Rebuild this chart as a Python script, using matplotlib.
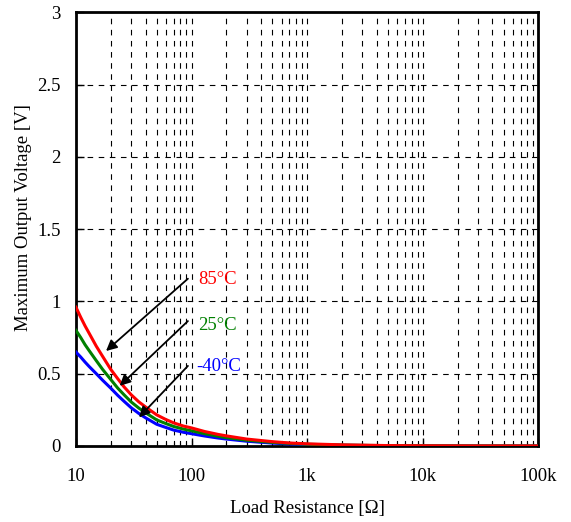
import numpy as np
import matplotlib.pyplot as plt
from matplotlib.ticker import FixedLocator, LogLocator, NullFormatter

plt.rcParams['font.family'] = ['Liberation Serif', 'DejaVu Serif']

# Load resistance [ohm] and maximum output voltage [V]
r_load = [10, 11, 12, 13, 15, 17, 20, 23, 26, 30, 35, 40, 50, 60, 70, 85,
          100, 130, 170, 200, 300, 500, 700, 1000, 2000, 5000, 10000, 30000, 100000]
v_85 = [0.96, 0.89, 0.83, 0.78, 0.69, 0.62, 0.53, 0.465, 0.41, 0.355, 0.305,
        0.27, 0.215, 0.183, 0.16, 0.138, 0.125, 0.10, 0.08, 0.07, 0.048,
        0.03, 0.021, 0.015, 0.008, 0.003, 0.0015, 0.0005, 0.0002]
v_25 = [0.80, 0.75, 0.70, 0.66, 0.59, 0.53, 0.46, 0.40, 0.355, 0.305, 0.262,
        0.23, 0.18, 0.155, 0.135, 0.117, 0.105, 0.085, 0.067, 0.058, 0.04,
        0.025, 0.018, 0.012, 0.006, 0.0025, 0.0012, 0.0004, 0.0001]
v_m40 = [0.65, 0.615, 0.58, 0.55, 0.50, 0.455, 0.40, 0.35, 0.31, 0.265, 0.225,
         0.195, 0.15, 0.128, 0.11, 0.095, 0.085, 0.069, 0.055, 0.048, 0.033,
         0.02, 0.014, 0.01, 0.005, 0.002, 0.001, 0.0003, 0.0001]

temps = ['85\u00b0C', '25\u00b0C', '-40\u00b0C']
colors = ['#ff0000', '#008000', '#0000ff']
series = [v_85, v_25, v_m40]

# arrow tails / heads and label positions (data coords)
arrow_tail = [(93, 1.157), (93, 0.864), (93, 0.554)]
arrow_head = [(18.2, 0.657), (23.9, 0.416), (35.1, 0.198)]
label_pos = [(114, 1.15), (114, 0.83), (109, 0.55)]

fig = plt.figure(figsize=(5.71, 5.22), dpi=100)
ax = fig.add_axes([0.133, 0.1456, 0.81, 0.831])

# draw -40C first so the 85C curve ends up on top
for v, c in list(zip(series, colors))[::-1]:
    ax.plot(r_load, v, color=c, lw=2.2, zorder=3)

for t, c, tail, head, lp in zip(temps, colors, arrow_tail, arrow_head, label_pos):
    ax.annotate('', xy=head, xytext=tail,
                arrowprops=dict(arrowstyle='-|>', color='black', lw=1.3,
                                mutation_scale=16, shrinkA=0, shrinkB=0),
                zorder=4)
    ax.text(lp[0], lp[1], t, color=c, fontsize=13.5, ha='left', va='center')

ax.set_xscale('log')
ax.set_xlim(10, 100000)
ax.set_ylim(0, 3)
ax.xaxis.set_major_locator(FixedLocator([10, 100, 1000, 10000, 100000]))
ax.set_xticklabels(['10', '100', '1k', '10k', '100k'])
ax.xaxis.set_minor_locator(LogLocator(base=10, subs=np.arange(2, 10)))
ax.xaxis.set_minor_formatter(NullFormatter())
ax.set_yticks([0, 0.5, 1, 1.5, 2, 2.5, 3])
ax.set_yticklabels(['0', '0.5', '1', '1.5', '2', '2.5', '3'])

ax.grid(True, which='both', axis='x', color='black', linestyle=(0, (5, 5)), lw=0.8)
ax.grid(True, which='major', axis='y', color='black', linestyle=(0, (5, 5)), lw=0.8)

ax.tick_params(which='major', direction='in', length=6, width=1, labelsize=13.5)
ax.tick_params(which='minor', direction='in', length=3, width=0.8)
ax.tick_params(axis='x', which='major', pad=16)
ax.tick_params(axis='y', which='major', pad=11)
for s in ax.spines.values():
    s.set_linewidth(2)

ax.set_xlabel('Load Resistance [\u03a9]', fontsize=13.5, labelpad=11)
ax.set_ylabel('Maximum Output Voltage [V]', fontsize=13.5)
ax.yaxis.set_label_coords(-0.096, 0.526)

fig.savefig('out.png', dpi=100)
